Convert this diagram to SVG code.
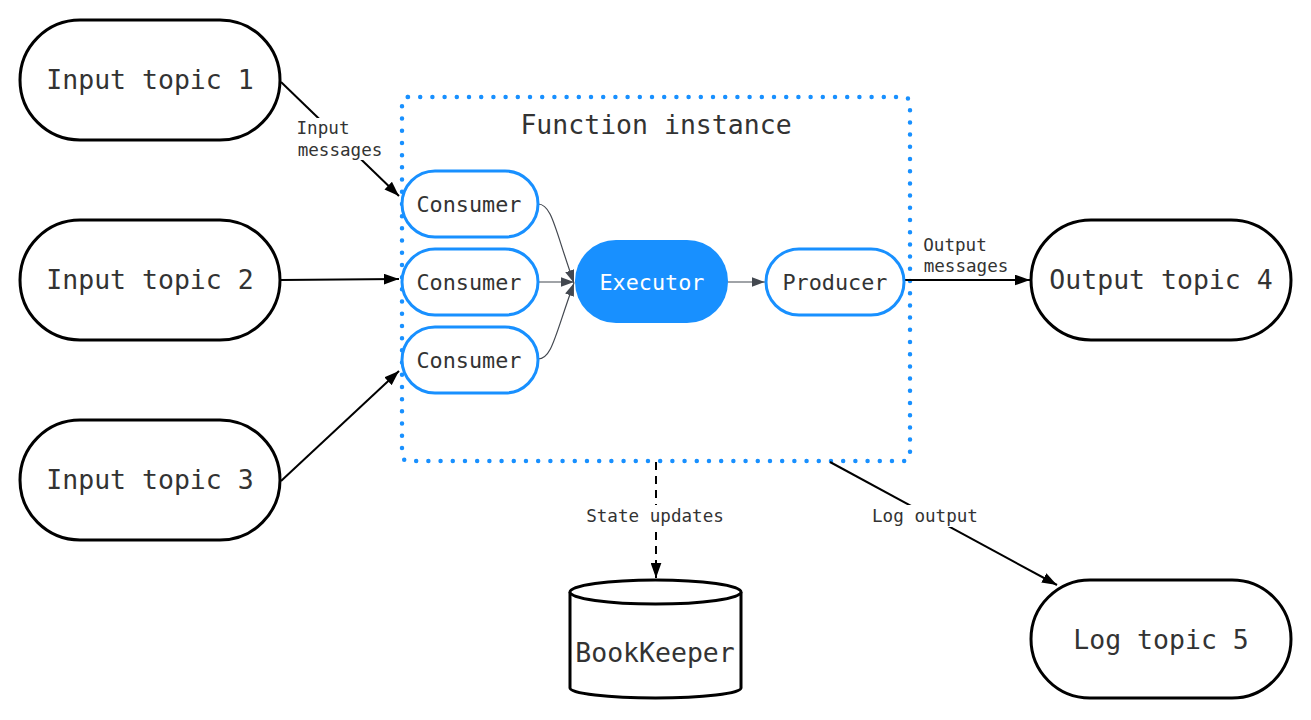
<svg xmlns="http://www.w3.org/2000/svg" width="1311" height="720" viewBox="0 0 1311 720">
<defs>
<style>
text{font-family:"DejaVu Sans Mono","Liberation Mono",monospace;fill:#333;text-anchor:middle;dominant-baseline:central}
.topic{fill:#fff;stroke:#000;stroke-width:3}
.topic-t{font-size:26.5px}
.blue{fill:#fff;stroke:#1890ff;stroke-width:3}
.small{font-size:21.8px}
.lbl{font-size:17.6px}
.edge{fill:none;stroke:#000;stroke-width:2}
.inner{fill:none;stroke:#434850;stroke-width:1.2}
.lblbg{fill:#fff}
</style>
<marker id="ahb" viewBox="0 0 14 10" refX="14" refY="5" markerWidth="15" markerHeight="11" markerUnits="userSpaceOnUse" orient="auto">
<path d="M0,0 L14,5 L0,10 z" fill="#000"/>
</marker>
<marker id="ahg" viewBox="0 0 14 10" refX="14" refY="5" markerWidth="13" markerHeight="10" markerUnits="userSpaceOnUse" orient="auto">
<path d="M0,0 L14,5 L0,10 z" fill="#434850"/>
</marker>
</defs>
<rect width="1311" height="720" fill="#fff"/>

<g id="function-instance">
<rect x="402" y="97" width="508" height="364" rx="6" fill="none" stroke="#1890ff" stroke-width="4.5" stroke-linecap="round" stroke-dasharray="0 12.2"/>
<text x="656" y="124" class="topic-t">Function instance</text>
</g>

<g id="connectors">
<path class="edge" d="M281,82 L399,196" marker-end="url(#ahb)"/>
<path class="edge" d="M281,280 L399,279" marker-end="url(#ahb)"/>
<path class="edge" d="M281,481 L399,371" marker-end="url(#ahb)"/>
<path class="inner" d="M538,204 C552,204 555,230 574,283" marker-end="url(#ahg)"/>
<path class="inner" d="M538,282 L574,282" marker-end="url(#ahg)"/>
<path class="inner" d="M538,359 C552,359 555,335 574,283" marker-end="url(#ahg)"/>
<path class="inner" d="M728,282 L765,282" marker-end="url(#ahg)"/>
<path class="edge" d="M905,280 L1030,280" marker-end="url(#ahb)"/>
<path class="edge" d="M656,462 L656,578" stroke-dasharray="8 6" marker-end="url(#ahb)"/>
<path class="edge" d="M830,462 L1057,585" marker-end="url(#ahb)"/>
<rect class="lblbg" x="295" y="118" width="90" height="42"/>
<text x="323" y="128" class="lbl">Input</text>
<text x="340" y="150" class="lbl">messages</text>
<text x="955" y="245" class="lbl">Output</text>
<text x="966" y="266" class="lbl">messages</text>
<rect class="lblbg" x="582" y="505" width="146" height="22"/>
<text x="655" y="516" class="lbl">State updates</text>
<rect class="lblbg" x="867" y="505" width="116" height="22"/>
<text x="925" y="516" class="lbl">Log output</text>
</g>

<g id="input-topic-1">
<rect class="topic" x="20" y="20" width="260" height="120" rx="60"/>
<text x="150" y="79" class="topic-t">Input topic 1</text>
</g>
<g id="input-topic-2">
<rect class="topic" x="20" y="220" width="260" height="120" rx="60"/>
<text x="150" y="279" class="topic-t">Input topic 2</text>
</g>
<g id="input-topic-3">
<rect class="topic" x="20" y="420" width="260" height="120" rx="60"/>
<text x="150" y="479" class="topic-t">Input topic 3</text>
</g>
<g id="output-topic-4">
<rect class="topic" x="1031" y="220" width="260" height="120" rx="60"/>
<text x="1161" y="279" class="topic-t">Output topic 4</text>
</g>
<g id="log-topic-5">
<rect class="topic" x="1031" y="580" width="260" height="118" rx="59"/>
<text x="1161" y="639" class="topic-t">Log topic 5</text>
</g>

<g id="consumer-1">
<rect class="blue" x="402" y="171" width="136" height="66" rx="33"/>
<text x="469" y="204" class="small">Consumer</text>
</g>
<g id="consumer-2">
<rect class="blue" x="402" y="249" width="136" height="66" rx="33"/>
<text x="469" y="282" class="small">Consumer</text>
</g>
<g id="consumer-3">
<rect class="blue" x="402" y="327" width="136" height="66" rx="33"/>
<text x="469" y="360" class="small">Consumer</text>
</g>
<g id="executor">
<rect x="575" y="240" width="153" height="83" rx="41" fill="#1890ff"/>
<text x="652" y="282" class="small" style="fill:#fff">Executor</text>
</g>
<g id="producer">
<rect class="blue" x="766" y="249" width="138" height="66" rx="33"/>
<text x="835" y="282" class="small">Producer</text>
</g>

<g id="bookkeeper">
<path d="M570,592 L570,688 A85.5,10 0 0 0 741,688 L741,592" fill="#fff" stroke="#000" stroke-width="3"/>
<ellipse cx="655.5" cy="592" rx="85.5" ry="12" fill="#fff" stroke="#000" stroke-width="3"/>
<text x="655" y="652" class="topic-t">BookKeeper</text>
</g>
</svg>
